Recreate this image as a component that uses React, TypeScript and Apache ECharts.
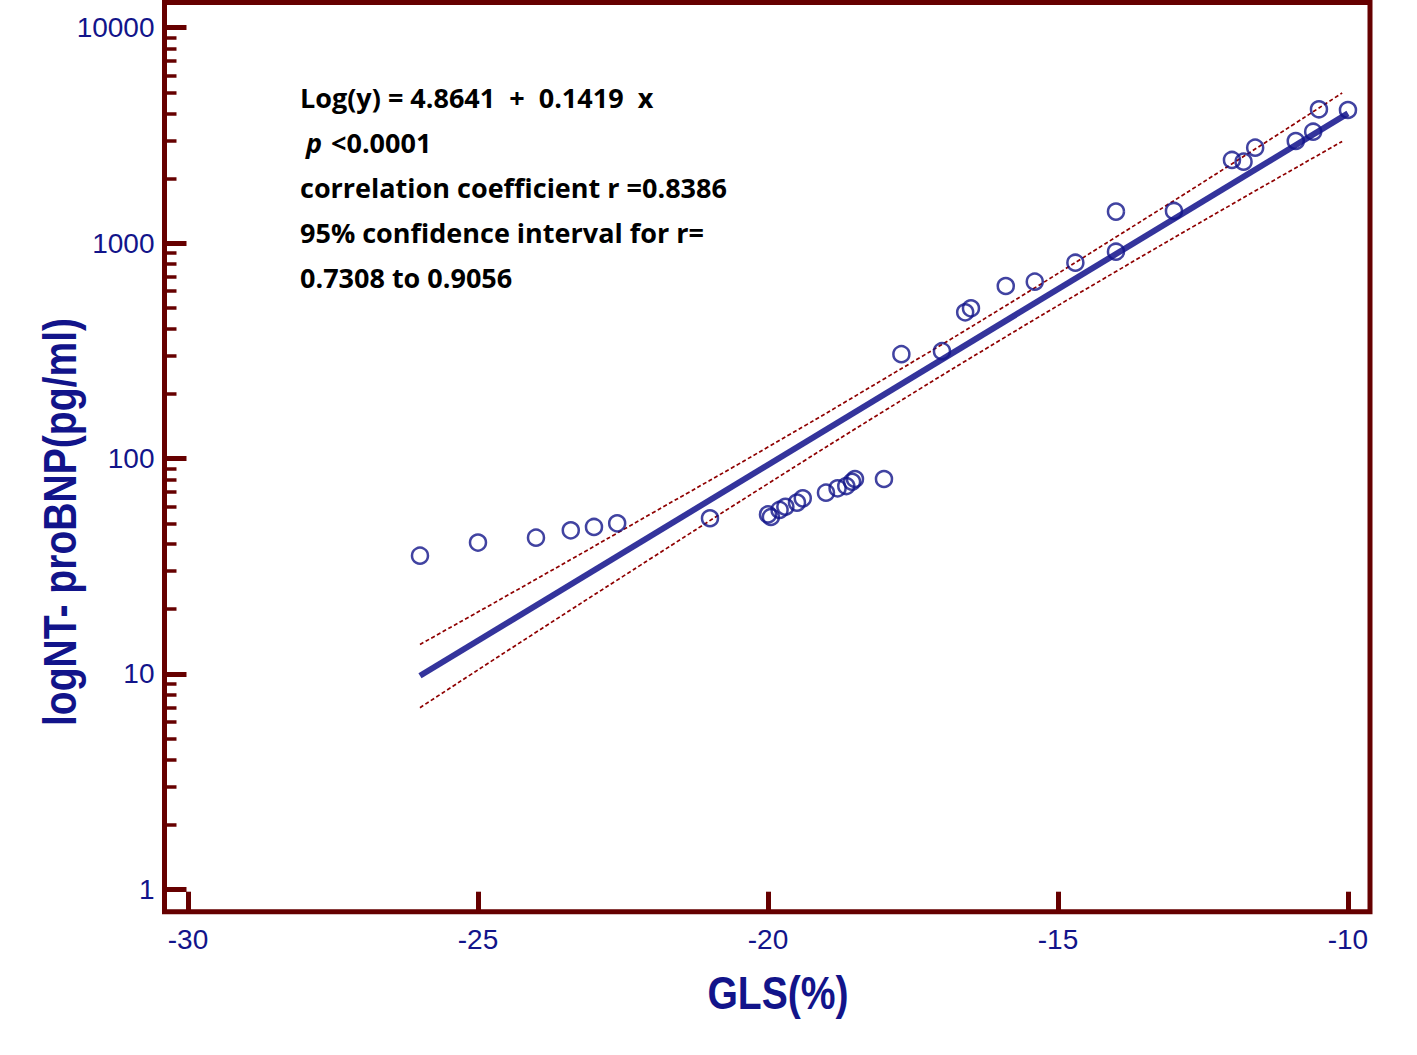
import React, { useEffect, useRef } from "react";
import * as echarts from "echarts";

// ---- data ----
const xTicks = [-30, -25, -20, -15, -10];
const yTicks = [1, 10, 100, 1000, 10000];
const yMinorTicks = [
  2, 3, 4, 5, 6, 7, 8, 9,
  20, 30, 40, 50, 60, 70, 80, 90,
  200, 300, 400, 500, 600, 700, 800, 900,
  2000, 3000, 4000, 5000, 6000, 7000, 8000, 9000,
];

const glsValues = [
  -26.0, -25.0, -24.0, -23.4, -23.0, -22.6, -21.0, -20.0, -19.95, -19.8,
  -19.7, -19.5, -19.4, -19.0, -18.8, -18.65, -18.55, -18.5, -18.0, -17.7,
  -17.0, -16.6, -16.5, -15.9, -15.4, -14.7, -14.0, -14.0, -13.0, -12.0,
  -11.8, -11.6, -10.9, -10.6, -10.5, -10.0,
];
const bnpValues = [
  35.4, 40.7, 42.9, 46.4, 48.1, 50.0, 52.8, 55.0, 53.5, 57.7,
  59.7, 62.4, 65.3, 69.4, 72.7, 74.5, 78.0, 80.3, 80.3, 305,
  315, 477, 498, 632, 662, 811, 1400, 912, 1410, 2432,
  2388, 2773, 2979, 3290, 4180, 4150,
];

const fitX = [-26, -10];
const fitY = [9.8, 4000];

const bandX = [-26, -24, -22, -20, -18, -16, -14, -12, -10.1];
const bandUpper = [13.7, 27.5, 55.7, 113, 234, 493, 1067, 2333, 4977];
const bandLower = [6.97, 15.6, 34.6, 76.4, 166, 354, 738, 1514, 2965];

const statLines = [
  "Log(y) = 4.8641  +  0.1419  x",
  "<0.0001",
  "correlation coefficient r =0.8386",
  "95% confidence interval for r=",
  "0.7308 to 0.9056",
];

const xTitle = "GLS(%)";
const yTitle = "logNT- proBNP(pg/ml)";

// ---- styles ----
const FRAME = "#660000";
const NAVY = "#12148a";
const LINE_BLUE = "#34349c";
const BAND_RED = "#8f0000";
const STAT_FONT = "bold 27px 'Open Sans', Lato, sans-serif";

const lg = (v: number) => Math.log10(v);

export default function App() {
  const ref = useRef<HTMLDivElement>(null);

  useEffect(() => {
    if (!ref.current) return;
    const chart = echarts.init(ref.current, undefined, { renderer: "svg" });

    const pts = glsValues.map((x, i) => [x, lg(bnpValues[i])]);
    const fit = fitX.map((x, i) => [x, lg(fitY[i])]);
    const up = bandX.map((x, i) => [x, lg(bandUpper[i])]);
    const lo = bandX.map((x, i) => [x, lg(bandLower[i])]);

    const yMin = -0.104;
    const yMax = 4.117;

    const statText = (text: string, x: number, y: number, font = STAT_FONT) => ({
      type: "text",
      x,
      y,
      style: { text, font, fill: "#000", textVerticalAlign: "middle" },
    });

    const option: any = {
      animation: false,
      backgroundColor: "#ffffff",
      grid: {
        left: 164.5,
        top: 2.5,
        right: 47,
        bottom: 143.3,
        show: true,
        borderColor: FRAME,
        borderWidth: 5,
        backgroundColor: "transparent",
        containLabel: false,
        outerBoundsMode: "none",
      },
      xAxis: {
        type: "value",
        min: -30.405,
        max: -9.62,
        axisLine: { show: false, onZero: false },
        splitLine: { show: false },
        axisTick: {
          show: true,
          inside: true,
          length: 20,
          customValues: xTicks,
          lineStyle: { color: FRAME, width: 5 },
        },
        axisLabel: {
          show: true,
          customValues: xTicks,
          margin: 14,
          color: NAVY,
          fontSize: 28,
          fontFamily: "Liberation Sans, Arial, sans-serif",
        },
      },
      yAxis: [
        {
          type: "value",
          min: yMin,
          max: yMax,
          axisLine: { show: false, onZero: false },
          splitLine: { show: false },
          axisTick: {
            show: true,
            inside: true,
            length: 22,
            customValues: yTicks.map(lg),
            lineStyle: { color: FRAME, width: 5 },
          },
          axisLabel: {
            show: true,
            customValues: yTicks.map(lg),
            margin: 10,
            color: NAVY,
            fontSize: 28,
            fontFamily: "Liberation Sans, Arial, sans-serif",
            formatter: (v: number) => String(Math.round(Math.pow(10, v))),
          },
        },
        {
          type: "value",
          min: yMin,
          max: yMax,
          position: "left",
          offset: 0,
          axisLine: { show: false, onZero: false },
          splitLine: { show: false },
          axisTick: {
            show: true,
            inside: true,
            length: 12,
            customValues: yMinorTicks.map(lg),
            lineStyle: { color: FRAME, width: 3.5 },
          },
          axisLabel: { show: false },
        },
      ],
      series: [
        {
          type: "line",
          data: up,
          smooth: true,
          symbol: "none",
          lineStyle: { color: BAND_RED, width: 1.7, type: [4, 2.5] },
          z: 2,
        },
        {
          type: "line",
          data: lo,
          smooth: true,
          symbol: "none",
          lineStyle: { color: BAND_RED, width: 1.7, type: [4, 2.5] },
          z: 2,
        },
        {
          type: "line",
          data: fit,
          symbol: "none",
          lineStyle: { color: LINE_BLUE, width: 6 },
          z: 3,
        },
        {
          type: "scatter",
          data: pts,
          symbol: "circle",
          symbolSize: 16,
          itemStyle: {
            color: "rgba(255,255,255,0)",
            borderColor: NAVY,
            borderWidth: 2.5,
          },
          z: 4,
        },
      ],
      graphic: [
        statText(statLines[0], 300, 97),
        statText("p", 306, 142, "italic bold 27px 'Open Sans', Lato, sans-serif"),
        statText(statLines[1], 331, 142),
        statText(statLines[2], 300, 187),
        statText(statLines[3], 300, 232),
        statText(statLines[4], 300, 277),
        {
          type: "text",
          x: 778,
          y: 993,
          scaleX: 0.85,
          style: {
            text: xTitle,
            font: "bold 46px 'Liberation Sans', Arial, sans-serif",
            fill: NAVY,
            textAlign: "center",
            textVerticalAlign: "middle",
          },
        },
        {
          type: "text",
          x: 60,
          y: 522,
          rotation: Math.PI / 2,
          scaleX: 0.85,
          style: {
            text: yTitle,
            font: "bold 46px 'Liberation Sans', Arial, sans-serif",
            fill: NAVY,
            textAlign: "center",
            textVerticalAlign: "middle",
          },
        },
      ],
    };

    chart.setOption(option);
    return () => chart.dispose();
  }, []);

  return (
    <div
      ref={ref}
      style={{ position: "absolute", left: 0, top: 0, width: 1417, height: 1055 }}
    />
  );
}
